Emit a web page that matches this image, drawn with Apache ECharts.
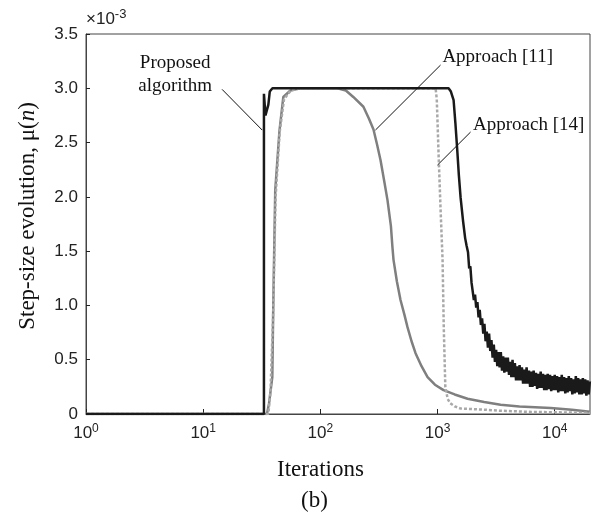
<!DOCTYPE html>
<html>
<head>
<meta charset="utf-8">
<script src="https://cdn.jsdelivr.net/npm/echarts@6/dist/echarts.min.js"></script>
<style>
html,body{margin:0;padding:0;background:#fff;}
#chart{width:595px;height:518px;}
</style>
</head>
<body>
<div id="chart"></div>
<script>
// ---- Data (step size in units of 1e-3) ----
const xTickExponents = [0, 1, 2, 3, 4];
const yTickValues = [0, 0.5, 1.0, 1.5, 2.0, 2.5, 3.0, 3.5];

const iterProposed = [1, 33, 33, 34, 36, 37, 39, 1242, 1300, 1371, 1420, 1473, 1520, 1574, 1650, 1720, 1770,
  1820, 1862, 1905, 1950, 1995, 2042, 2089, 2138, 2188, 2239, 2291, 2344, 2399, 2455, 2512, 2570, 2630, 2692, 2754, 2818,
  2884, 2951, 3020, 3090, 3162, 3236, 3311, 3388, 3467, 3548, 3631, 3715, 3802, 3890, 3981, 4074, 4169, 4266, 4365, 4467,
  4571, 4677, 4786, 4898, 5012, 5129, 5248, 5370, 5495, 5623, 5754, 5888, 6026, 6166, 6310, 6457, 6607, 6761, 6918, 7079,
  7244, 7413, 7586, 7762, 7943, 8128, 8318, 8511, 8710, 8913, 9120, 9333, 9550, 9772, 10000, 10233, 10471, 10715, 10965, 11220,
  11482, 11749, 12023, 12303, 12589, 12882, 13183, 13490, 13804, 14125, 14454, 14791, 15136, 15488, 15849, 16218, 16596, 16982,
  17378, 17783, 18197, 18621, 19055, 19498, 19953];
const muProposed = [0, 0, 2.95, 2.75, 2.85, 2.97, 3.0, 3.0, 2.97, 2.89, 2.68, 2.43, 2.2, 1.99, 1.78, 1.62, 1.55,
  1.49, 1.34, 1.36, 1.21, 1.21, 1.05, 1.10, 0.98, 1.03, 0.89, 0.96, 0.82, 0.88, 0.74, 0.83, 0.67, 0.76, 0.61, 0.74, 0.58,
  0.68, 0.52, 0.64, 0.48, 0.59, 0.44, 0.57, 0.43, 0.57, 0.40, 0.53, 0.38, 0.52, 0.39, 0.52, 0.36, 0.48, 0.34, 0.50, 0.34,
  0.47, 0.31, 0.44, 0.31, 0.45, 0.31, 0.43, 0.28, 0.41, 0.28, 0.43, 0.28, 0.40, 0.25, 0.39, 0.25, 0.40, 0.26, 0.38, 0.23,
  0.37, 0.24, 0.39, 0.24, 0.37, 0.22, 0.36, 0.22, 0.37, 0.23, 0.36, 0.21, 0.35, 0.22, 0.36, 0.22, 0.35, 0.20, 0.34, 0.21,
  0.36, 0.21, 0.34, 0.19, 0.33, 0.20, 0.35, 0.21, 0.33, 0.18, 0.32, 0.19, 0.35, 0.20, 0.33, 0.18, 0.32, 0.18,
  0.33, 0.19, 0.32, 0.17, 0.31, 0.18, 0.30];

const iterApproach11 = [1, 35, 36.5, 38.9, 39.7, 41.2, 44.7, 48.3, 55.5, 67, 140, 165, 191, 233, 260, 284, 305, 326, 350, 374,
  400, 412, 421, 450, 483, 520, 554, 600, 649, 730, 822, 950, 1125, 1400, 1804, 2500, 3453, 5000, 9245, 14000, 20000];
const muApproach11 = [0, 0, 0.1, 0.34, 1.05, 2.06, 2.6, 2.92, 2.98, 3.0, 3.0, 2.98, 2.92, 2.83, 2.72, 2.62, 2.48, 2.34, 2.15, 1.97,
  1.73, 1.54, 1.42, 1.22, 1.05, 0.92, 0.80, 0.67, 0.56, 0.44, 0.34, 0.27, 0.22, 0.18, 0.14, 0.11, 0.085, 0.07, 0.055, 0.04, 0.02];

const iterApproach14 = [1, 36, 37.5, 39.5, 41.5, 45, 49, 56, 68, 962, 985, 1020, 1060, 1104, 1130, 1165, 1220, 1280, 1400,
  1580, 2500, 3450, 6000, 20000];
const muApproach14 = [0, 0, 0.2, 0.9, 2.0, 2.6, 2.9, 2.98, 3.0, 3.0, 2.9, 2.4, 1.9, 1.42, 0.8, 0.25, 0.14, 0.1, 0.07,
  0.05, 0.04, 0.03, 0.02, 0.01];

const labelProposed = 'Proposed\nalgorithm';
const label11 = 'Approach [11]';
const label14 = 'Approach [14]';

// ---- Build ----
function pairs(xs, ys) { return xs.map((x, i) => [x, ys[i]]); }

const serif = 'Liberation Serif';
const sans = 'Liberation Sans';
const annFont = { fontFamily: serif, fontSize: 19, color: '#111', lineHeight: 23 };
const leader = { color: '#111', width: 1, type: 'solid' };

function note(coord, text) {
  return {
    coord: coord, value: 0, symbol: 'circle', symbolSize: 1,
    itemStyle: { color: 'rgba(0,0,0,0)' },
    label: Object.assign({ show: true, position: 'inside', formatter: text }, annFont)
  };
}

const chart = echarts.init(document.getElementById('chart'), null, { renderer: 'canvas' });
chart.setOption({
  animation: false,
  backgroundColor: '#fff',
  grid: { left: 86, top: 34, right: 5, bottom: 104, show: true, borderColor: '#444', borderWidth: 1, backgroundColor: 'transparent' },
  xAxis: {
    type: 'log', logBase: 10, min: 1, max: 20000,
    axisLine: { show: true, onZero: false, lineStyle: { color: '#444', width: 1 } },
    axisTick: { show: true, inside: true, length: 5, lineStyle: { color: '#222' } },
    minorTick: { show: false },
    splitLine: { show: false },
    axisLabel: {
      margin: 9,
      showMaxLabel: false,
      formatter: function (v) {
        const e = Math.round(Math.log10(v));
        if (xTickExponents.indexOf(e) < 0 || Math.abs(Math.pow(10, e) - v) > 1e-6 * v) return '';
        return '{b|10}{s|' + e + '}';
      },
      rich: {
        b: { fontFamily: sans, fontSize: 17, color: '#222' },
        s: { fontFamily: sans, fontSize: 12, color: '#222', padding: [0, 0, 9, 0] }
      }
    }
  },
  yAxis: {
    type: 'value', min: 0, max: 3.5, interval: 0.5,
    axisLine: { show: true, lineStyle: { color: '#444', width: 1 } },
    axisTick: { show: true, inside: true, length: 4, lineStyle: { color: '#222' } },
    splitLine: { show: false },
    axisLabel: {
      margin: 8, fontFamily: sans, fontSize: 17, color: '#222',
      formatter: function (v) {
        const t = yTickValues.find(u => Math.abs(u - v) < 1e-9);
        if (t === undefined) return '';
        return t === 0 ? '0' : t.toFixed(1);
      }
    },
    name: '{r|Step-size evolution, μ(}{i|n}{r|)}',
    nameLocation: 'middle', nameGap: 47, nameRotate: 90,
    nameTextStyle: {
      padding: [0, 0, 0, 16],
      rich: {
        r: { fontFamily: serif, fontSize: 23, color: '#111' },
        i: { fontFamily: serif, fontSize: 23, fontStyle: 'italic', color: '#111' }
      }
    }
  },
  graphic: [
    {
      type: 'text', left: 86, top: 8, z: 10,
      style: {
        text: '{a|×10}{e|-3}',
        fontFamily: sans, fontSize: 17, fill: '#222',
        rich: {
          a: { fontFamily: sans, fontSize: 17, fill: '#222' },
          e: { fontFamily: sans, fontSize: 13, fill: '#222', padding: [0, 0, 9, 0] }
        }
      }
    },
    {
      type: 'text', left: 277, top: 458, z: 10,
      style: { text: 'Iterations', fontFamily: serif, fontSize: 23, fill: '#111' }
    },
    {
      type: 'text', left: 301, top: 489, z: 10,
      style: { text: '(b)', fontFamily: serif, fontSize: 23, fill: '#111' }
    }
  ],
  series: [
    {
      name: label11, type: 'line', data: pairs(iterApproach11, muApproach11), showSymbol: false,
      lineStyle: { color: '#7f7f7f', width: 2.5 }, z: 2,
      markLine: {
        silent: true, symbol: ['none', 'none'], lineStyle: leader, label: { show: false },
        data: [[{ coord: [1061, 3.214] }, { coord: [295, 2.615] }]]
      },
      markPoint: { silent: true, data: [note([3260, 3.29], label11)] }
    },
    {
      name: label14, type: 'line', data: pairs(iterApproach14, muApproach14), showSymbol: false,
      lineStyle: { color: '#a9a9a9', width: 2.5, type: [3, 2] }, z: 3,
      markLine: {
        silent: true, symbol: ['none', 'none'], lineStyle: leader, label: { show: false },
        data: [[{ coord: [1914, 2.597] }, { coord: [1000, 2.293] }]]
      },
      markPoint: { silent: true, data: [note([5995, 2.66], label14)] }
    },
    {
      name: 'Proposed algorithm', type: 'line', data: pairs(iterProposed, muProposed), showSymbol: false,
      lineStyle: { color: '#1a1a1a', width: 2.5 }, z: 4,
      markLine: {
        silent: true, symbol: ['none', 'none'], lineStyle: leader, label: { show: false },
        data: [[{ coord: [14.5, 2.99] }, { coord: [31.9, 2.615] }]]
      },
      markPoint: { silent: true, data: [note([5.77, 3.13], labelProposed)] }
    }
  ]
});
</script>
</body>
</html>
